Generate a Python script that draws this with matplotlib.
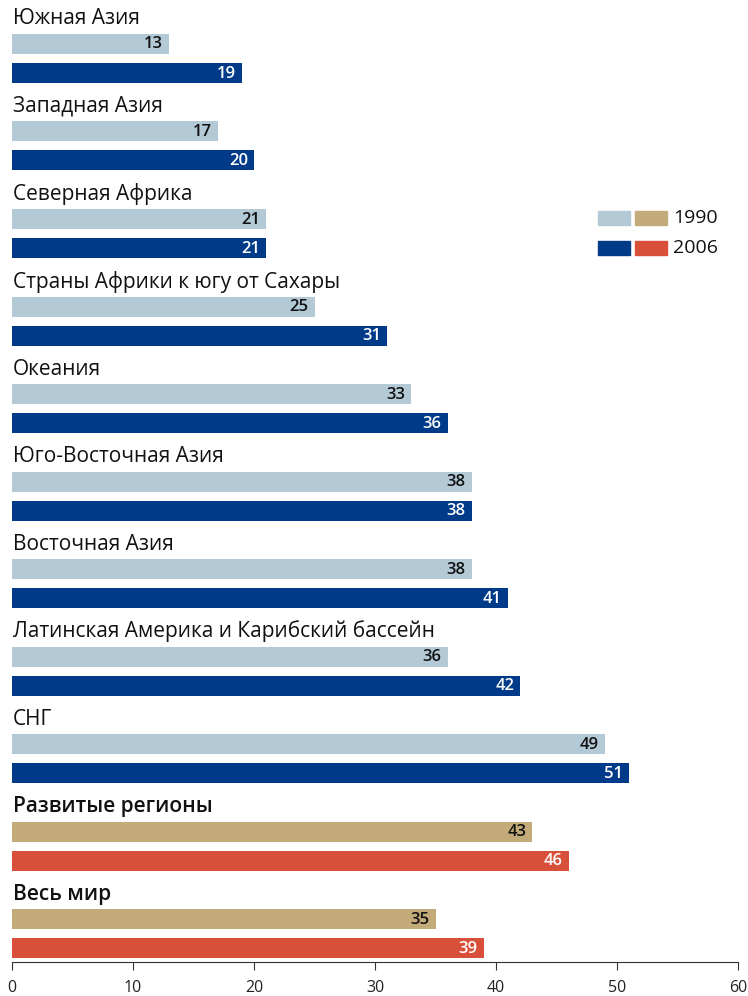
import matplotlib
matplotlib.use('Agg')
import matplotlib.pyplot as plt
from matplotlib.patches import Rectangle

plt.rcParams['font.family'] = ['Open Sans', 'DejaVu Sans']

# Данные
regions = ["Южная Азия", "Западная Азия", "Северная Африка",
           "Страны Африки к югу от Сахары", "Океания", "Юго-Восточная Азия",
           "Восточная Азия", "Латинская Америка и Карибский бассейн", "СНГ",
           "Развитые регионы", "Весь мир"]
values_1990 = [13, 17, 21, 25, 33, 38, 38, 36, 49, 43, 35]
values_2006 = [19, 20, 21, 31, 36, 38, 41, 42, 51, 46, 39]
summary = [False] * 9 + [True, True]
xticks = [0, 10, 20, 30, 40, 50, 60]

C_1990 = '#b3cad6'
C_2006 = '#003a88'
C_1990_S = '#c2ab78'
C_2006_S = '#d9503a'

W, H = 748, 996
fig = plt.figure(figsize=(W / 100, H / 100), dpi=100)
ax = fig.add_axes([12 / W, 1 - 962 / H, 726 / W, 962 / H])

step = 87.5
bar_h = 20
for i, name in enumerate(regions):
    y0 = i * step
    c1 = C_1990_S if summary[i] else C_1990
    c2 = C_2006_S if summary[i] else C_2006
    ax.barh(y0 + 44, values_1990[i], height=bar_h, color=c1)
    ax.barh(y0 + 73, values_2006[i], height=bar_h, color=c2)
    ax.text(values_1990[i] - 0.5, y0 + 44.5, str(values_1990[i]), ha='right',
            va='center', fontsize=12, fontweight='semibold', color='#111111')
    ax.text(values_2006[i] - 0.5, y0 + 73.5, str(values_2006[i]), ha='right',
            va='center', fontsize=12, fontweight='semibold', color='white')
    ax.text(0.1, y0 + 19, name, ha='left', va='center', fontsize=15,
            fontweight='semibold' if summary[i] else 'normal', color='#111111')

ax.set_xlim(0, 60)
ax.set_ylim(962, 0)
ax.set_xticks(xticks)
ax.set_yticks([])
for s in ['top', 'right', 'left']:
    ax.spines[s].set_visible(False)
ax.spines['bottom'].set_color('#333333')
ax.tick_params(axis='x', length=6, color='#333333', labelsize=11.5,
               labelcolor='#222222', pad=7)

# Легенда
for py, cols, lab in [(211, (C_1990, C_1990_S), '1990'),
                      (241, (C_2006, C_2006_S), '2006')]:
    for k, c in enumerate(cols):
        fig.add_artist(Rectangle(((598 + 37 * k) / W, 1 - (py + 14) / H),
                                 32 / W, 14 / H, color=c,
                                 transform=fig.transFigure))
    fig.text(673 / W, 1 - (py + 7) / H, lab, ha='left', va='center',
             fontsize=14, color='#111111')

fig.savefig('out.png', dpi=100)
